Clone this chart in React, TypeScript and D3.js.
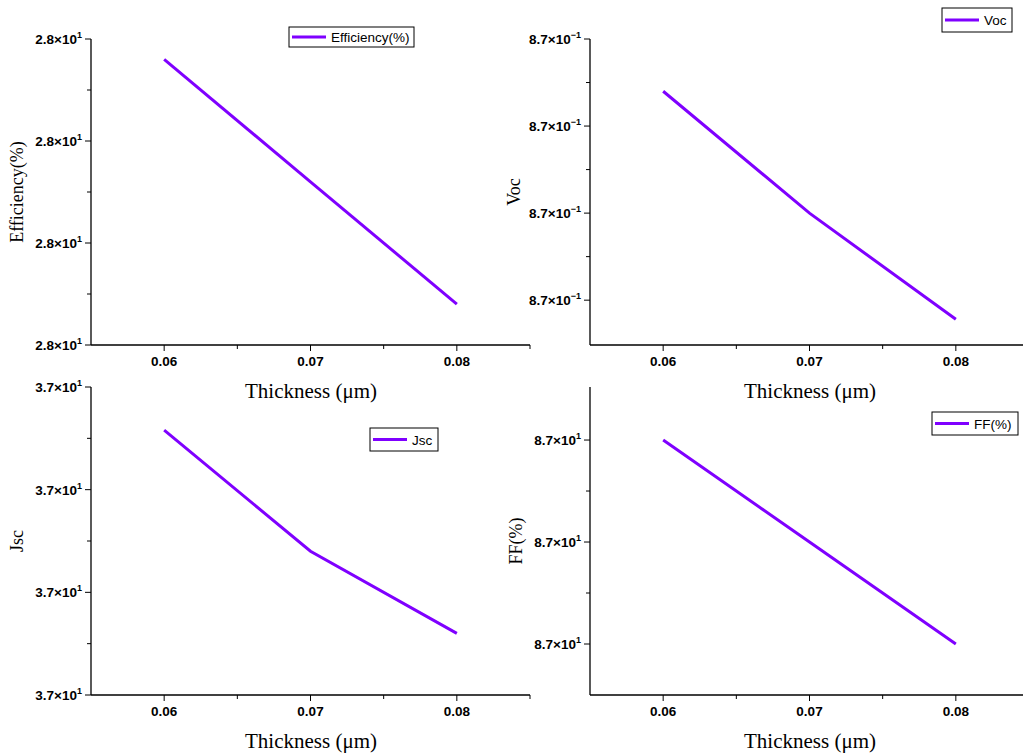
import React from "react";
import * as d3 from "d3";

// thickness sweep (um) and the four outputs
const thickness = [0.06, 0.07, 0.08];
const efficiency = [28.026, 28.002, 27.978];
const voc = [0.86988, 0.8696, 0.869356];
const jsc = [36.9958, 36.984, 36.976];
const ff = [87.02, 87.01, 87.0];

const xTicks = [0.06, 0.07, 0.08];
const xMinorTicks = [0.065, 0.075, 0.085];
const effTicks = [27.97, 27.99, 28.01, 28.03];
const vocTicks = [0.8694, 0.8696, 0.8698, 0.87];
const jscTicks = [36.97, 36.98, 36.99, 37.0];
const ffTicks = [87.0, 87.01, 87.02];

const LINE = "#7F00FF";
const SANS = "'Liberation Sans', Arial, sans-serif";
const SERIF = "'Liberation Serif', 'Times New Roman', serif";

const panels = [
  {
    key: "eff", values: efficiency, ticks: effTicks, domain: [27.97, 28.03],
    label: "Efficiency(%)", legend: "Efficiency(%)",
    x0: 91, x1: 530, y0: 39, y1: 345,
    box: { x: 289, y: 27, w: 125, h: 20 }, titleX: 17,
  },
  {
    key: "voc", values: voc, ticks: vocTicks, domain: [0.869297, 0.87],
    label: "Voc", legend: "Voc",
    x0: 590, x1: 1029, y0: 39, y1: 345,
    box: { x: 942, y: 8, w: 70, h: 24 }, titleX: 514,
  },
  {
    key: "jsc", values: jsc, ticks: jscTicks, domain: [36.97, 37.0],
    label: "Jsc", legend: "Jsc",
    x0: 91, x1: 530, y0: 387, y1: 695,
    box: { x: 370, y: 428, w: 68, h: 23 }, titleX: 17,
  },
  {
    key: "ff", values: ff, ticks: ffTicks, domain: [86.995, 87.0252],
    label: "FF(%)", legend: "FF(%)",
    x0: 590, x1: 1029, y0: 387, y1: 695,
    box: { x: 932, y: 412, w: 86, h: 23 }, titleX: 516,
  },
];

const sciLabel = (v: number) => {
  const [m, e] = v.toExponential(1).split("e");
  const exp = parseInt(e, 10);
  return { m, exp: exp < 0 ? "\u2212" + Math.abs(exp) : String(exp) };
};

const Panel = ({ p }: { p: (typeof panels)[number] }) => {
  const x = d3.scaleLinear().domain([0.055, 0.085]).range([p.x0, p.x1]);
  const y = d3.scaleLinear().domain(p.domain).range([p.y1, p.y0]);
  const line = d3
    .line<number>()
    .x((_, i) => x(thickness[i]))
    .y((d) => y(d));
  const minorY = d3.pairs(p.ticks).map(([a, b]) => (a + b) / 2);
  const midY = (p.y0 + p.y1) / 2;
  const b = p.box;

  return (
    <g>
      {/* axes */}
      <line x1={p.x0} x2={p.x1} y1={p.y1} y2={p.y1} stroke="#000" strokeWidth={1.3} />
      <line x1={p.x0} x2={p.x0} y1={p.y0} y2={p.y1} stroke="#000" strokeWidth={1.3} />
      {xTicks.map((t) => (
        <g key={t}>
          <line x1={x(t)} x2={x(t)} y1={p.y1} y2={p.y1 + 6} stroke="#000" />
          <text x={x(t)} y={p.y1 + 21} textAnchor="middle" fontFamily={SANS}
            fontWeight={700} fontSize={13.5}>{t.toFixed(2)}</text>
        </g>
      ))}
      {xMinorTicks.map((t) => (
        <line key={t} x1={x(t)} x2={x(t)} y1={p.y1} y2={p.y1 + 4} stroke="#000" />
      ))}
      {p.ticks.map((t) => {
        const s = sciLabel(t);
        return (
          <g key={t}>
            <line x1={p.x0 - 6} x2={p.x0} y1={y(t)} y2={y(t)} stroke="#000" />
            <text x={p.x0 - 9} y={y(t) + 5} textAnchor="end" fontFamily={SANS}
              fontWeight={700} fontSize={13.5}>
              {s.m}{"\u00d7"}10
              <tspan dy={-6} fontSize={9}>{s.exp}</tspan>
            </text>
          </g>
        );
      })}
      {minorY.map((t) => (
        <line key={t} x1={p.x0 - 4} x2={p.x0} y1={y(t)} y2={y(t)} stroke="#000" />
      ))}

      {/* titles */}
      <text x={p.x0 + 220} y={p.y1 + 53} textAnchor="middle" fontFamily={SERIF} fontSize={21}>
        Thickness ({"\u03bc"}m)
      </text>
      <text transform={`translate(${p.titleX + 6},${midY}) rotate(-90)`} textAnchor="middle"
        fontFamily={SERIF} fontSize={18}>
        {p.label}
      </text>

      {/* data */}
      <path d={line(p.values) ?? ""} fill="none" stroke={LINE} strokeWidth={3} />

      {/* legend */}
      <rect x={b.x} y={b.y} width={b.w} height={b.h} fill="#fff" stroke="#000" strokeWidth={1} />
      <line x1={b.x + 3} x2={b.x + 37} y1={b.y + b.h / 2} y2={b.y + b.h / 2} stroke={LINE} strokeWidth={3} />
      <text x={b.x + 42} y={b.y + b.h / 2 + 5} fontFamily={SANS} fontSize={13.5}>
        {p.legend}
      </text>
    </g>
  );
};

export default function App() {
  return (
    <div style={{ position: "absolute", left: 0, top: 0 }}>
      <svg width={1023} height={753} style={{ display: "block", background: "#fff" }}>
        {panels.map((p) => (
          <Panel key={p.key} p={p} />
        ))}
      </svg>
    </div>
  );
}
